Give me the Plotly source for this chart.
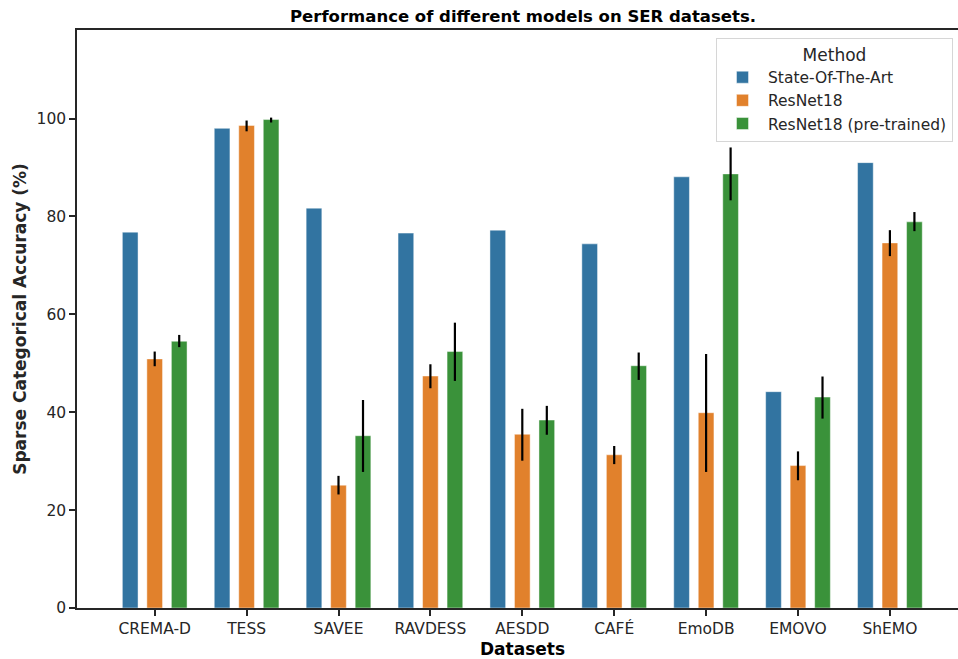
import plotly.graph_objects as go

# Datasets on the x axis
datasets = ["CREMA-D", "TESS", "SAVEE", "RAVDESS", "AESDD", "CAFÉ", "EmoDB", "EMOVO", "ShEMO"]

# Mean sparse categorical accuracy (%) per method
sota = [76.8, 98.0, 81.7, 76.6, 77.2, 74.4, 88.1, 44.2, 91.0]
resnet18 = [50.9, 98.6, 25.1, 47.4, 35.5, 31.3, 39.9, 29.1, 74.6]
resnet18_pt = [54.5, 99.8, 35.2, 52.4, 38.4, 49.5, 88.7, 43.1, 78.9]

# Confidence interval bounds for the ResNet18 runs
resnet18_lo = [49.4, 97.4, 23.2, 44.9, 30.1, 29.4, 27.8, 26.1, 71.9]
resnet18_hi = [52.4, 99.6, 27.0, 49.8, 40.7, 33.1, 51.9, 32.0, 77.2]
resnet18_pt_lo = [53.3, 99.2, 27.8, 46.4, 35.4, 46.6, 83.3, 38.7, 77.0]
resnet18_pt_hi = [55.8, 100.2, 42.5, 58.3, 41.3, 52.2, 94.1, 47.3, 80.9]

methods = ["State-Of-The-Art", "ResNet18", "ResNet18 (pre-trained)"]
colors = ["#3274a1", "#e1812c", "#3a923a"]

W, H = 958, 659
M_L, M_R, M_T, M_B = 77, 0, 30, 51
TXT = "#262626"


def err(values, lo, hi):
    return dict(
        type="data",
        symmetric=False,
        array=[h - v for v, h in zip(values, hi)],
        arrayminus=[v - l for v, l in zip(values, lo)],
        color="black",
        thickness=2.2,
        width=0,
    )


fig = go.Figure()
series = [
    (sota, None),
    (resnet18, err(resnet18, resnet18_lo, resnet18_hi)),
    (resnet18_pt, err(resnet18_pt, resnet18_pt_lo, resnet18_pt_hi)),
]
for name, color, (vals, e) in zip(methods, colors, series):
    fig.add_trace(
        go.Bar(
            name=name,
            x=datasets,
            y=vals,
            marker=dict(color=color, line=dict(color="rgba(255,255,255,0.45)", width=1)),
            error_y=e if e is not None else dict(visible=False),
        )
    )

plot_w = W - M_L - M_R
center_px = 522.5
fig.update_layout(
    width=W,
    height=H,
    margin=dict(l=M_L, r=M_R, t=M_T, b=M_B, pad=0),
    paper_bgcolor="white",
    plot_bgcolor="white",
    barmode="group",
    bargap=0.2,
    bargroupgap=0.36,
    font=dict(family="DejaVu Sans", color=TXT, size=15.5),
    showlegend=True,
    legend=dict(
        title=dict(text="Method", side="top center", font=dict(size=17, color=TXT)),
        x=(716 - M_L) / plot_w,
        xanchor="left",
        y=0.987,
        yanchor="top",
        bgcolor="white",
        bordercolor="#d6d6d6",
        borderwidth=1,
        font=dict(size=15.5, color=TXT),
        itemwidth=41,
        tracegroupgap=2,
    ),
    xaxis=dict(
        range=[-0.8455, 8.741],
        showline=True,
        linecolor=TXT,
        linewidth=1.5,
        mirror=True,
        ticks="outside",
        ticklen=6,
        tickwidth=1.5,
        tickcolor=TXT,
        tickfont=dict(size=15.5, color=TXT),
        showgrid=False,
        zeroline=False,
    ),
    yaxis=dict(
        range=[0, 118.1],
        tickvals=[0, 20, 40, 60, 80, 100],
        showline=True,
        linecolor=TXT,
        linewidth=1.5,
        ticks="outside",
        ticklen=6,
        tickwidth=1.5,
        tickcolor=TXT,
        tickfont=dict(size=15.5, color=TXT),
        showgrid=False,
        zeroline=False,
        title=dict(
            text="<b>Sparse Categorical Accuracy (%)</b>",
            font=dict(size=17, color=TXT),
            standoff=6,
        ),
    ),
    annotations=[
        dict(
            text="<b>Performance of different models on SER datasets.</b>",
            xref="paper", yref="paper",
            x=(center_px - M_L) / plot_w, y=1,
            xanchor="center", yanchor="bottom",
            yshift=2,
            showarrow=False,
            font=dict(size=16.5, color="black"),
        ),
        dict(
            text="<b>Datasets</b>",
            xref="paper", yref="paper",
            x=(center_px - M_L) / plot_w, y=0,
            xanchor="center", yanchor="top",
            yshift=-29,
            showarrow=False,
            font=dict(size=17, color="black"),
        ),
    ],
)

fig.write_html("out.html")
